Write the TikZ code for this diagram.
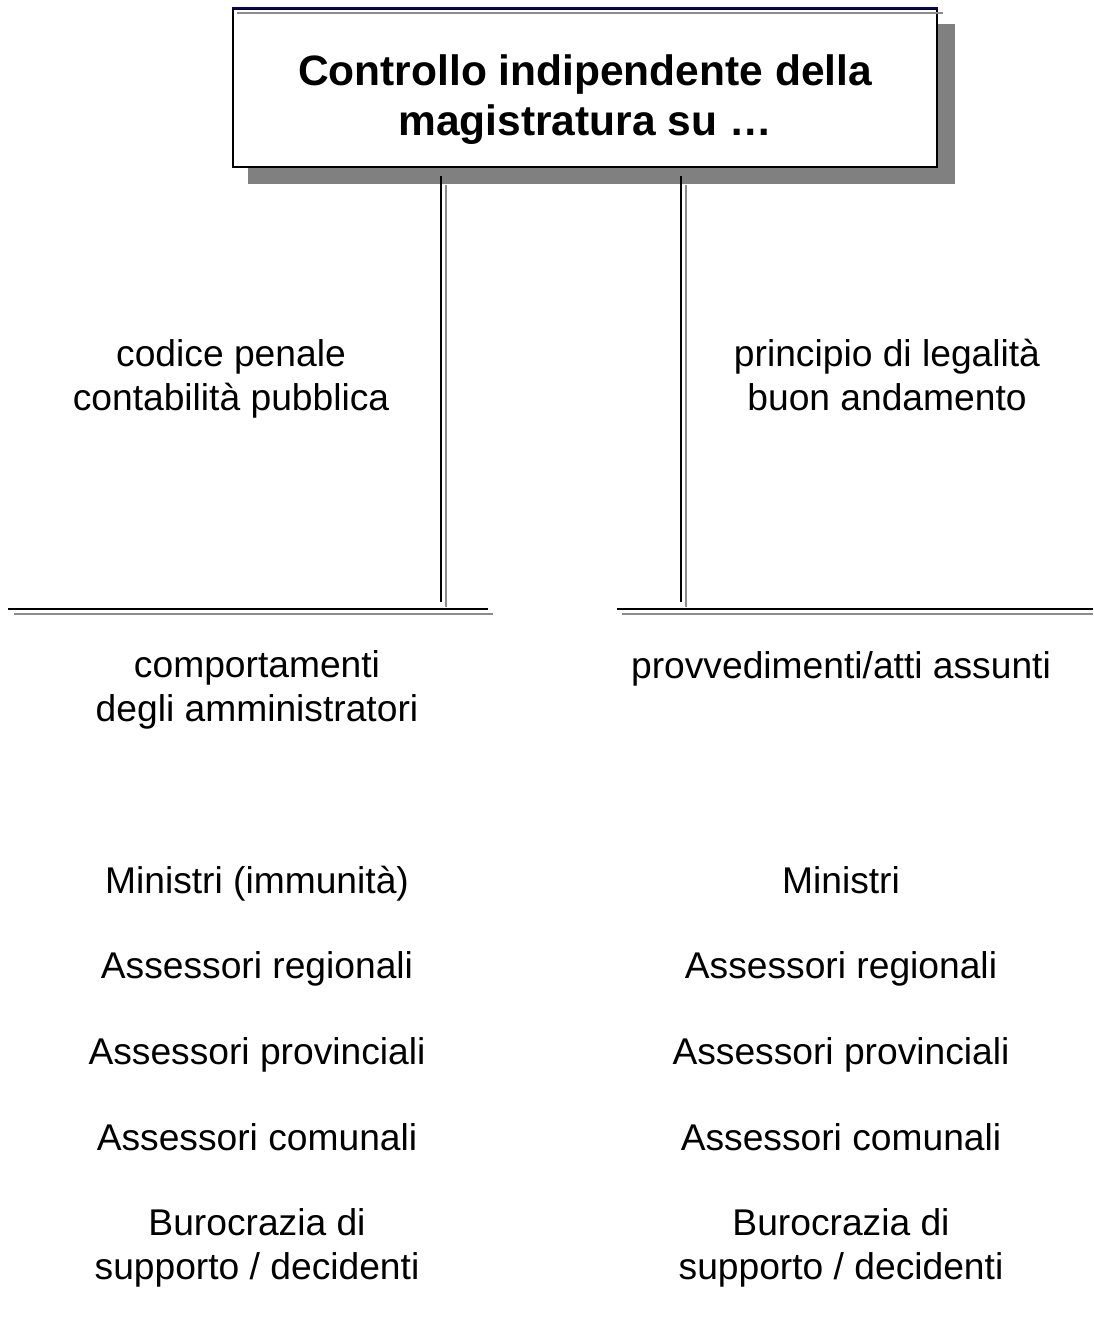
\documentclass[tikz,border=0pt]{standalone}
\usepackage{fontspec}
\setmainfont{Liberation Sans}
\begin{document}
\begin{tikzpicture}[x=1pt,y=-1pt,
  ink/.style={line width=1.6pt,black},
  echo/.style={line width=1.6pt,color=black!45},
  label/.style={anchor=base,align=center,inner sep=0pt,font=\fontsize{37.2}{44}\selectfont},
  titlebox/.style={draw=black,line width=1.6pt,fill=white,minimum width=704pt,minimum height=158pt,inner sep=0pt},
  titletext/.style={anchor=base,align=center,inner sep=0pt,font=\fontsize{42.5}{50}\selectfont\bfseries}]
\useasboundingbox (0,0) rectangle (1093,1328);

% heading box with its drop shadow
\fill[black!50] (248,24) rectangle (955,184);
\node[titlebox] (title) at (585,88) {};
\draw[line width=1.6pt,color={rgb,255:red,0;green,0;blue,128}] (title.north west) -- (title.north east);
\draw[echo] ([xshift=5pt,yshift=-5pt]title.north west) -- ([xshift=5pt,yshift=-5pt]title.north east);
\node[titletext] (heading) at (585,135) {Controllo indipendente della\\magistratura su \dots};

% anchor points of the connectors
\coordinate (lt) at (441,176);
\coordinate (lb) at (441,602);
\coordinate (rt) at (681,176);
\coordinate (rb) at (681,602);
\coordinate (hl1) at (8,609);
\coordinate (hl2) at (488,609);
\coordinate (hr1) at (617,609);
\coordinate (hr2) at (1093,609);

% vertical connectors, each with a grey echo line (shifted right and down)
\draw[echo] ([xshift=5pt,yshift=-9pt]lt) -- ([xshift=5pt,yshift=-5pt]lb);
\draw[ink] (lt) -- (lb);
\draw[echo] ([xshift=5pt,yshift=-9pt]rt) -- ([xshift=5pt,yshift=-5pt]rb);
\draw[ink] (rt) -- (rb);

% horizontal bars
\draw[echo] ([xshift=6pt,yshift=-5pt]hl1) -- ([xshift=5pt,yshift=-5pt]hl2);
\draw[ink] (hl1) -- (hl2);
\draw[echo] ([xshift=5pt,yshift=-5pt]hr1) -- ([yshift=-5pt]hr2);
\draw[ink] (hr1) -- (hr2);

% labels along the connectors (base = baseline of the last line)
\node[label] (normL) at (231,410) {codice penale\\contabilità pubblica};
\node[label] (normR) at (887,410) {principio di legalità\\buon andamento};
\node[label] (objL) at (257,721) {comportamenti\\degli amministratori};
\node[label] (objR) at (841,678) {provvedimenti/atti assunti};

% left column
\node[label] (l1) at (257,893) {Ministri (immunità)};
\node[label] (l2) at (257,978) {Assessori regionali};
\node[label] (l3) at (257,1064) {Assessori provinciali};
\node[label] (l4) at (257,1150) {Assessori comunali};
\node[label] (l5) at (257,1279) {Burocrazia di\\supporto / decidenti};

% right column
\node[label] (r1) at (841,893) {Ministri};
\node[label] (r2) at (841,978) {Assessori regionali};
\node[label] (r3) at (841,1064) {Assessori provinciali};
\node[label] (r4) at (841,1150) {Assessori comunali};
\node[label] (r5) at (841,1279) {Burocrazia di\\supporto / decidenti};
\end{tikzpicture}
\end{document}
